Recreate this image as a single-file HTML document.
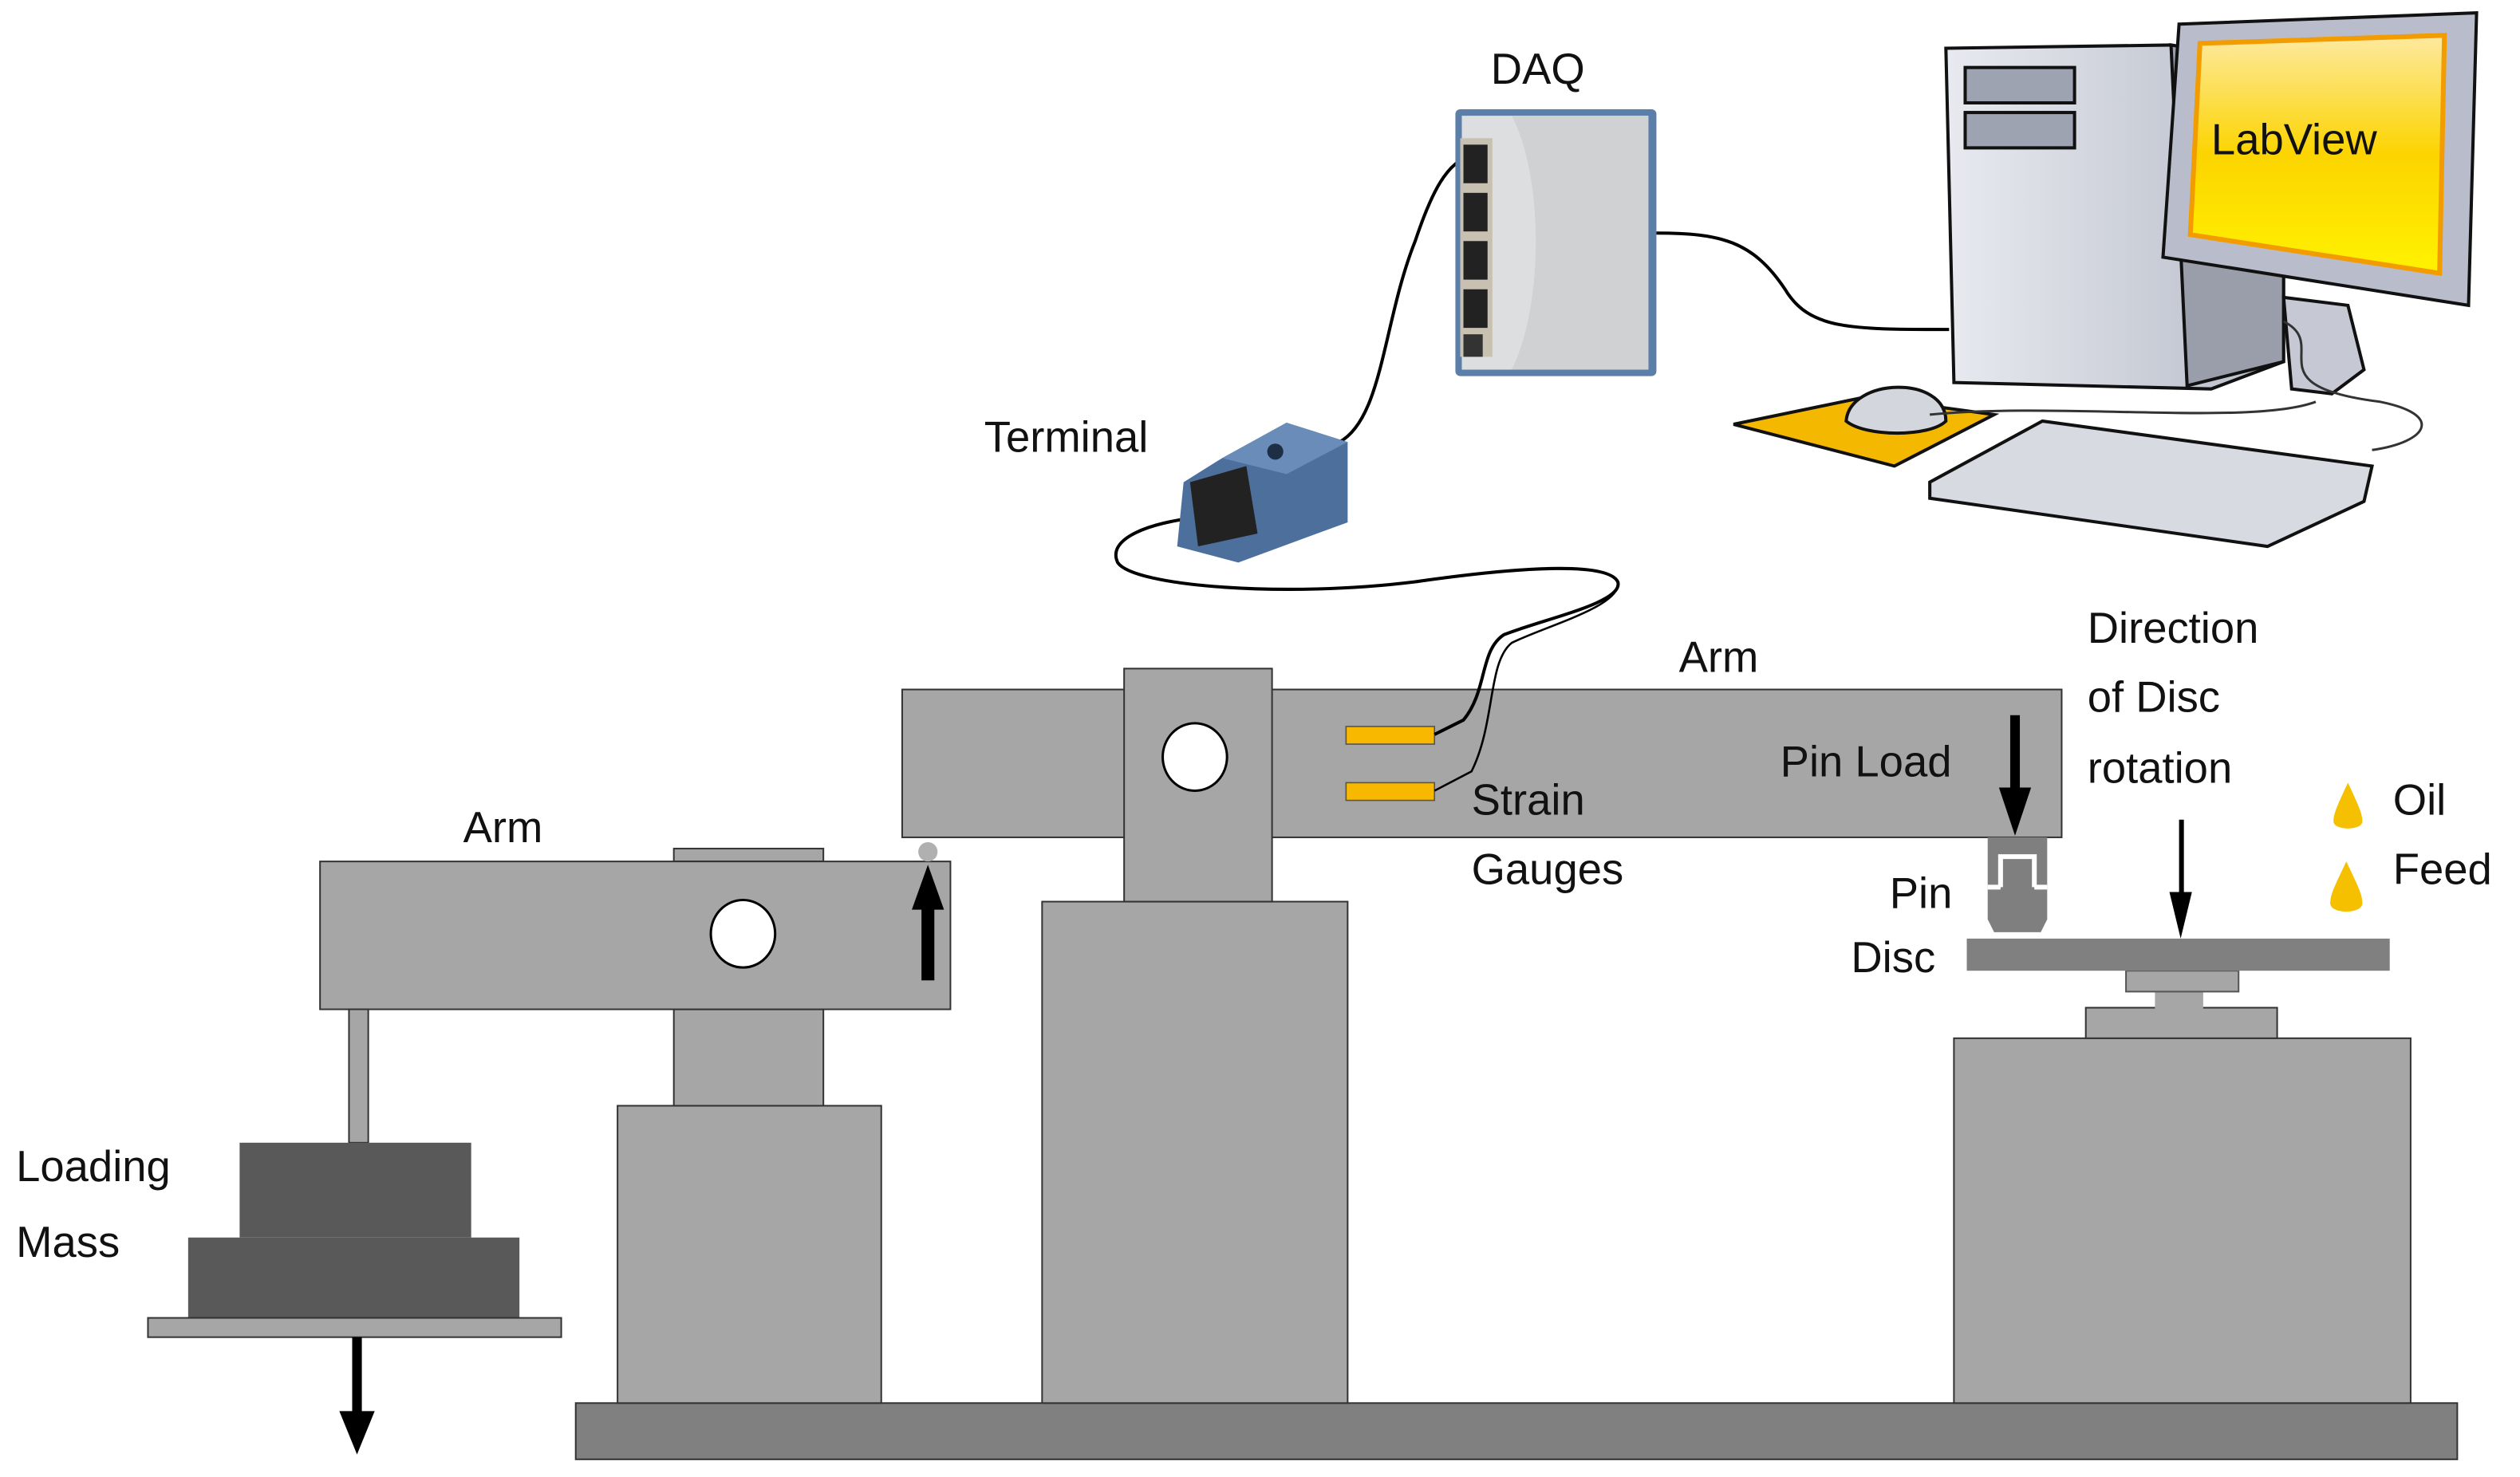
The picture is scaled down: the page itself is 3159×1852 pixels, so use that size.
<!DOCTYPE html>
<html><head><meta charset="utf-8"><style>
html,body{margin:0;padding:0;background:#fff;width:3159px;height:1852px;overflow:hidden}
svg{display:block}
text{font-family:"Liberation Sans",sans-serif;font-size:27px;fill:#111}
</style></head><body>
<svg width="3159" height="1852" viewBox="0 0 1567 919" preserveAspectRatio="none">
<defs>
<linearGradient id="scr" x1="0" y1="0" x2="0" y2="1"><stop offset="0" stop-color="#fde9a0"/><stop offset="0.5" stop-color="#fcd400"/><stop offset="1" stop-color="#fff200"/></linearGradient>
<linearGradient id="tw" x1="0" y1="0" x2="1" y2="0"><stop offset="0" stop-color="#e8eaf0"/><stop offset="1" stop-color="#b8bcc8"/></linearGradient>
</defs>
<g stroke="#333" stroke-width="1">
<rect x="358" y="873" width="1170" height="35" fill="#808080"/>
<rect x="384" y="688" width="164" height="185" fill="#a6a6a6"/>
<rect x="419" y="628" width="93" height="60" fill="#a6a6a6"/>
<rect x="419" y="528" width="93" height="8" fill="#a6a6a6"/>
<rect x="199" y="536" width="392" height="92" fill="#a6a6a6"/>
<rect x="217" y="628" width="12" height="83" fill="#a6a6a6"/>
<rect x="149" y="711" width="144" height="59" fill="#595959" stroke="none"/>
<rect x="117" y="770" width="206" height="50" fill="#595959" stroke="none"/>
<rect x="92" y="820" width="257" height="12" fill="#a6a6a6"/>
<rect x="648" y="561" width="190" height="312" fill="#a6a6a6"/>
<rect x="561" y="429" width="721" height="92" fill="#a6a6a6"/>
<rect x="699" y="416" width="92" height="145" fill="#a6a6a6"/>
<rect x="1215" y="646" width="284" height="227" fill="#a6a6a6"/>
<rect x="1297" y="627" width="119" height="19" fill="#a6a6a6"/>
</g>
<ellipse cx="462" cy="581" rx="20" ry="21" fill="#fff" stroke="#000" stroke-width="1.5"/>
<ellipse cx="743" cy="471" rx="20" ry="21" fill="#fff" stroke="#000" stroke-width="1.5"/>
<circle cx="577" cy="530" r="6" fill="#b0b0b0"/>
<rect x="1340" y="614" width="30" height="14" fill="#a6a6a6"/>
<rect x="1322" y="604" width="70" height="13" fill="#a6a6a6" stroke="#555" stroke-width="1"/>
<rect x="1223" y="584" width="263" height="20" fill="#808080"/>
<path d="M1236 521 H1273 V572 L1269 580 H1240 L1236 572 Z" fill="#7f7f7f"/>
<path d="M1244 552 V533 H1265 V552" fill="none" stroke="#fff" stroke-width="3"/>
<path d="M1236 552 H1244 M1265 552 H1273" stroke="#fff" stroke-width="3"/>
<rect x="837" y="452" width="55" height="11" fill="#f9b800" stroke="#555" stroke-width="0.8"/>
<rect x="837" y="487" width="55" height="11" fill="#f9b800" stroke="#555" stroke-width="0.8"/>
<g fill="#000">
<rect x="573" y="562" width="8" height="48"/><path d="M567 566 L577 538 L587 566 Z"/>
<rect x="219" y="832" width="6" height="48"/><path d="M211 878 L222 905 L233 878 Z"/>
<rect x="1250" y="445" width="6" height="50"/><path d="M1243 490 L1253 520 L1263 490 Z"/>
<rect x="1355" y="510" width="3" height="50"/><path d="M1349 555 L1356 584 L1363 555 Z"/>
</g>
<path d="M1460 487 C1454 500 1451 506 1451 511 C1451 517 1469 517 1469 511 C1469 506 1466 500 1460 487 Z" fill="#f5c000"/>
<path d="M1459 536 C1453 549 1449 556 1449 562 C1449 569 1469 569 1469 562 C1469 556 1465 549 1459 536 Z" fill="#f5c000"/>
<g fill="none" stroke="#000" stroke-width="2">
<path d="M745 322 C715 325 688 335 695 350 C705 365 800 372 880 362 C950 352 1000 350 1006 362 C1010 375 960 385 935 395 C920 405 925 430 910 448 L892 457"/>
<path d="M1006 364 C1005 378 960 390 940 400 C925 412 930 450 915 480 L892 492" stroke-width="1.3"/>
<path d="M833 275 C860 260 860 200 880 150 C890 120 900 100 915 97"/>
<path d="M1030 145 C1070 145 1090 150 1110 180 C1125 205 1150 205 1212 205"/>
</g>
<g>
<rect x="905" y="68" width="125" height="166" fill="#5b7fa8" rx="3"/>
<rect x="909" y="72" width="116" height="158" fill="#dcdedf"/>
<path d="M940 72 C960 110 960 190 940 230 H1025 V72 Z" fill="#cfd1d3"/>
<rect x="908" y="86" width="20" height="136" fill="#c8c0b0"/>
<rect x="910" y="90" width="15" height="24" fill="#222"/>
<rect x="910" y="120" width="15" height="24" fill="#222"/>
<rect x="910" y="150" width="15" height="24" fill="#222"/>
<rect x="910" y="180" width="15" height="24" fill="#222"/>
<rect x="910" y="208" width="12" height="14" fill="#333"/>
</g>
<g>
<path d="M760 285 L800 263 L838 275 L838 325 L770 350 L732 340 L736 300 Z" fill="#4d6f9c"/>
<path d="M760 285 L800 263 L838 275 L800 295 Z" fill="#6a8cb8"/>
<path d="M740 300 L775 290 L782 332 L745 340 Z" fill="#222"/>
<circle cx="793" cy="281" r="5" fill="#1e2e44"/>
</g>
<g stroke="#111" stroke-width="2">
<path d="M1210 30 L1350 28 L1420 40 L1420 225 L1375 242 L1215 238 Z" fill="url(#tw)"/>
<path d="M1350 28 L1420 40 L1420 225 L1360 240 Z" fill="#9a9eab"/>
<rect x="1222" y="42" width="68" height="22" fill="#9ea3b2"/>
<rect x="1222" y="70" width="68" height="22" fill="#9ea3b2"/>
<path d="M1420 185 L1460 190 L1470 230 L1450 245 L1425 242 Z" fill="#c6c9d3"/>
<path d="M1355 15 L1540 8 L1535 190 L1345 160 Z" fill="#b8bccb"/>
<path d="M1368 27 L1520 22 L1517 170 L1362 146 Z" fill="url(#scr)" stroke="#f39c00" stroke-width="3"/>
<path d="M1078 264 L1160 247 L1240 258 L1178 290 Z" fill="#f5b800"/>
<path d="M1148 262 C1150 235 1210 233 1210 262 C1200 272 1160 272 1148 262 Z" fill="#d4d6de"/>
<path d="M1200 300 L1270 262 L1475 290 L1470 312 L1410 340 L1200 310 Z" fill="#d8dae2"/>
</g>
<path d="M1420 200 C1450 215 1400 240 1480 250 C1520 258 1510 275 1475 280 M1200 258 C1280 250 1400 265 1440 250" fill="none" stroke="#333" stroke-width="1.5"/>
<text x="927" y="52">DAQ</text>
<text x="1375" y="96" font-size="29">LabView</text>
<text x="612" y="281">Terminal</text>
<text x="1044" y="418">Arm</text>
<text x="288" y="524">Arm</text>
<text x="1107" y="483">Pin Load</text>
<text x="915" y="507">Strain</text>
<text x="915" y="550">Gauges</text>
<text x="1175" y="565">Pin</text>
<text x="1151" y="605">Disc</text>
<text x="1298" y="400">Direction</text>
<text x="1298" y="443">of Disc</text>
<text x="1298" y="487">rotation</text>
<text x="1488" y="507">Oil</text>
<text x="1488" y="550">Feed</text>
<text x="10" y="735">Loading</text>
<text x="10" y="782">Mass</text>
</svg>
</body></html>
